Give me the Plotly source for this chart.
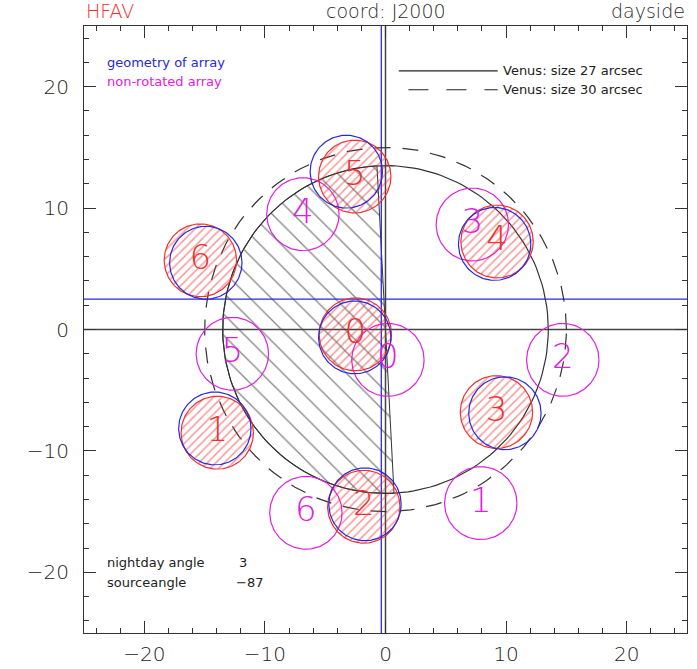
import numpy as np
import plotly.graph_objects as go

# ---- data ----
venus_r_solid = 13.5      # Venus: size 27 arcsec
venus_r_dash = 15.0       # Venus: size 30 arcsec
beam_r = 3.0
nightday_angle = 3
source_angle = -87

ids = ["0", "1", "2", "3", "4", "5", "6"]
red_x = [-2.5, -13.95, -1.8, 9.2, 9.25, -2.55, -15.35]
red_y = [-0.4, -8.5, -14.6, -6.8, 7.25, 12.6, 5.7]
blue_x = [-2.55, -14.15, -1.7, 9.9, 9.05, -3.25, -14.9]
blue_y = [-0.65, -8.15, -14.4, -6.9, 7.05, 13.0, 5.5]
mag_x = [0.2, 7.9, 14.7, 7.2, -6.85, -12.7, -6.6]
mag_y = [-2.5, -14.3, -2.5, 8.65, 9.5, -2.0, -15.1]
blue_cross_x = -0.35
blue_cross_y = 2.5

RED = "#f03030"
BLUE = "#2828e0"
MAG = "#e020e0"
DARK = "#222222"

t = np.linspace(0, 2 * np.pi, 181)


def circ(cx, cy, r):
    return cx + r * np.cos(t), cy + r * np.sin(t)


fig = go.Figure()

# hatched night side half disk
a = np.radians(np.linspace(90 + nightday_angle, 270 + nightday_angle, 121))
hx = np.append(venus_r_solid * np.cos(a), venus_r_solid * np.cos(a[0]))
hy = np.append(venus_r_solid * np.sin(a), venus_r_solid * np.sin(a[0]))
fig.add_trace(go.Scatter(x=hx, y=hy, mode="lines", fill="toself",
                         line=dict(color="#333333", width=1),
                         fillcolor="rgba(0,0,0,0)",
                         fillpattern=dict(shape="\\", fgcolor="#111111",
                                          bgcolor="rgba(0,0,0,0)", size=15, solidity=0.09),
                         hoverinfo="skip"))

# axes cross lines
fig.add_trace(go.Scatter(x=[0, 0], y=[-25, 25], mode="lines", line=dict(color="#444444", width=1.5)))
fig.add_trace(go.Scatter(x=[-25, 25], y=[0, 0], mode="lines", line=dict(color="#444444", width=1.5)))
fig.add_trace(go.Scatter(x=[blue_cross_x, blue_cross_x], y=[-25, 25], mode="lines", line=dict(color=BLUE, width=1.3)))
fig.add_trace(go.Scatter(x=[-25, 25], y=[blue_cross_y, blue_cross_y], mode="lines", line=dict(color=BLUE, width=1.3)))

# Venus circles
cx, cy = circ(0, 0, venus_r_solid)
fig.add_trace(go.Scatter(x=cx, y=cy, mode="lines", line=dict(color="#333333", width=1.2)))
cx, cy = circ(0, 0, venus_r_dash)
fig.add_trace(go.Scatter(x=cx, y=cy, mode="lines", line=dict(color="#333333", width=1.2, dash="16px,12px")))

# magenta non-rotated array
for i in range(len(ids)):
    x, y = circ(mag_x[i], mag_y[i], beam_r)
    fig.add_trace(go.Scatter(x=x, y=y, mode="lines", line=dict(color=MAG, width=1.2)))

# red hatched array
for i in range(len(ids)):
    x, y = circ(red_x[i], red_y[i], beam_r)
    fig.add_trace(go.Scatter(x=x, y=y, mode="lines", fill="toself",
                             line=dict(color=RED, width=1.2),
                             fillcolor="rgba(0,0,0,0)",
                             fillpattern=dict(shape="/", fgcolor=RED, bgcolor="rgba(0,0,0,0)",
                                              size=6, solidity=0.25)))

# blue geometry array
for i in range(len(ids)):
    x, y = circ(blue_x[i], blue_y[i], beam_r)
    fig.add_trace(go.Scatter(x=x, y=y, mode="lines", line=dict(color=BLUE, width=1.2)))

# labels
LBL = "DejaVu Sans"
fig.add_trace(go.Scatter(x=mag_x, y=mag_y, mode="text", text=ids,
                         textfont=dict(color=MAG, size=34, family=LBL, weight=200)))
fig.add_trace(go.Scatter(x=red_x, y=red_y, mode="text", text=ids,
                         textfont=dict(color=RED, size=34, family=LBL, weight=200)))

# legend lines (right)
fig.add_shape(type="line", x0=1.1, x1=9.3, y0=21.3, y1=21.3, line=dict(color="#222222", width=1.2))
fig.add_shape(type="line", x0=1.9, x1=9.3, y0=19.75, y1=19.75,
              line=dict(color="#222222", width=1.2, dash="20px,18px"))

FONT = "DejaVu Sans"
small = dict(family=FONT, size=13)

anns = [
    dict(x=-23.3, y=22.0, text="geometry of array", font=dict(color=BLUE, **small)),
    dict(x=-23.3, y=20.4, text="non-rotated array", font=dict(color=MAG, **small)),
    dict(x=9.6, y=21.3, text="Venus: size 27 arcsec", font=dict(color=DARK, **small)),
    dict(x=9.6, y=19.75, text="Venus: size 30 arcsec", font=dict(color=DARK, **small)),
    dict(x=-23.3, y=-19.2, text="nightday angle", font=dict(color=DARK, **small)),
    dict(x=-12.3, y=-19.2, text=str(nightday_angle), font=dict(color=DARK, **small)),
    dict(x=-23.3, y=-20.8, text="sourceangle", font=dict(color=DARK, **small)),
    dict(x=-12.6, y=-20.8, text="\u2212" + str(abs(source_angle)), font=dict(color=DARK, **small)),
]
for an in anns:
    fig.add_annotation(xref="x", yref="y", xanchor="left", yanchor="middle",
                       showarrow=False, **an)

top = dict(family=FONT, size=19, weight=300)
fig.add_annotation(xref="paper", yref="paper", x=0, y=1.0, yshift=2, xanchor="left", yanchor="bottom",
                   text="HFAV", showarrow=False, font=dict(color=RED, **top))
fig.add_annotation(xref="paper", yref="paper", x=0.5, y=1.0, yshift=2, xanchor="center", yanchor="bottom",
                   text="coord: J2000", showarrow=False, font=dict(color="#2a2a2a", **top))
fig.add_annotation(xref="paper", yref="paper", x=1.0, y=1.0, yshift=2, xanchor="right", yanchor="bottom",
                   text="dayside", showarrow=False, font=dict(color="#2a2a2a", **top))

ax = dict(range=[-25, 25], dtick=10, tick0=0, ticks="inside", ticklen=12, tickcolor="#333333",
          showline=True, linecolor="#333333", linewidth=1.2, mirror="ticks",
          showgrid=False, zeroline=False, automargin=False,
          minor=dict(dtick=2, ticks="inside", ticklen=5, tickcolor="#333333"),
          tickfont=dict(family=FONT, size=20, color="#222222", weight=300))

fig.update_layout(width=697, height=669, margin=dict(l=84, r=10, t=26, b=36),
                  plot_bgcolor="white", paper_bgcolor="white", showlegend=False,
                  xaxis=dict(**ax, ticklabelstandoff=3), yaxis=dict(**ax, ticklabelstandoff=10))

fig.write_html("out.html")
